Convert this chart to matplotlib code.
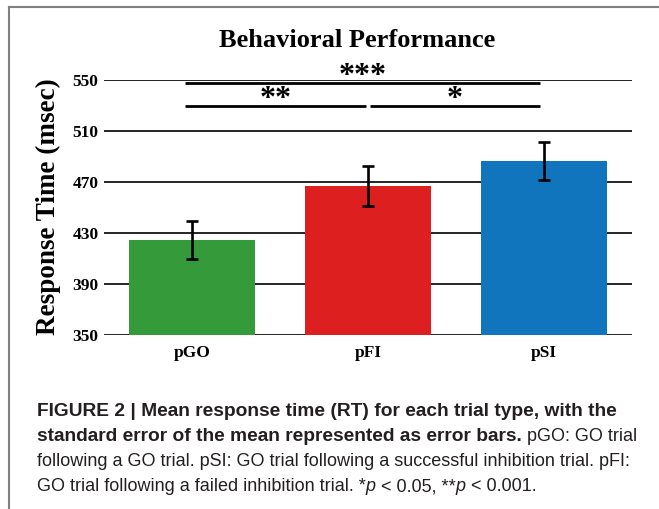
import matplotlib
matplotlib.use("Agg")
import matplotlib.pyplot as plt
from matplotlib import font_manager
from matplotlib.lines import Line2D

conditions = ["pGO", "pFI", "pSI"]
mean_rt = [424.5, 466.5, 486.0]
sem_rt = [15.0, 15.5, 15.0]
bar_colors = ["#359a3a", "#de1f20", "#1075bc"]
y_ticks = [350, 390, 430, 470, 510, 550]

# significance brackets: (x start, x end, y, stars)
sig_pairs = [(-0.04, 1.98, 547.5, "***"),
             (-0.04, 0.99, 529.5, "**"),
             (1.01, 1.98, 529.5, "*")]

caption_lines = [
    [("FIGURE 2 | Mean response time (RT) for each trial type, with the", "bold")],
    [("standard error of the mean represented as error bars.", "bold"),
     (" pGO: GO trial", "normal")],
    [("following a GO trial. pSI: GO trial following a successful inhibition trial. pFI:", "normal")],
    [("GO trial following a failed inhibition trial. *", "normal"), ("p", "italic"),
     (" < 0.05, **", "normal"), ("p", "italic"), (" < 0.001.", "normal")],
]


def pick_font(names):
    for n in names:
        try:
            font_manager.findfont(n, fallback_to_default=False)
            return n
        except Exception:
            pass
    return "DejaVu Sans"


serif = pick_font(["Liberation Serif", "DejaVu Serif"])
cap_font = pick_font(["Liberation Sans Narrow", "Liberation Sans", "DejaVu Sans"])

W, H = 659, 509
fig = plt.figure(figsize=(W / 100, H / 100), dpi=100)
ax = fig.add_axes([104 / W, 1 - 335 / H, (632 - 104) / W, (335 - 79.5) / H])

x = list(range(len(conditions)))
ax.bar(x, [m - 350 for m in mean_rt], bottom=350, width=0.72,
       color=bar_colors, zorder=3)
ax.errorbar(x, mean_rt, yerr=sem_rt, fmt="none", ecolor="black",
            elinewidth=1.9, capsize=4, capthick=1.9, zorder=4)

ax.set_xlim(-0.5, 2.5)
ax.set_ylim(350, 550)
ax.set_yticks(y_ticks)
ax.set_xticks(x)
ax.set_xticklabels(conditions)
for s in ax.spines.values():
    s.set_visible(False)
ax.yaxis.grid(True, color="black", linewidth=1.2, zorder=1)
ax.set_axisbelow(True)
ax.tick_params(length=0, pad=4)
for lab in ax.get_yticklabels() + ax.get_xticklabels():
    lab.set_fontfamily(serif)
    lab.set_fontweight("bold")
    lab.set_fontsize(12.5)
ax.tick_params(axis="x", pad=7)

for x0, x1, yv, stars in sig_pairs:
    ax.plot([x0, x1], [yv, yv], color="black", lw=2, clip_on=False,
            solid_capstyle="butt", zorder=5)
    ax.text((x0 + x1) / 2, yv - 0.8, stars, ha="center", va="baseline",
            fontfamily=serif, fontweight="bold", fontsize=23, clip_on=False)

fig.text(357 / W, 1 - 47 / H, "Behavioral Performance", ha="center",
         va="baseline", fontfamily=serif, fontweight="bold", fontsize=19)
fig.text(48 / W, 1 - 207 / H, "Response Time (msec)", rotation=90,
         ha="center", va="center", fontfamily=serif, fontweight="bold",
         fontsize=19.5)

# outer frame (cut off at right and bottom)
fig.add_artist(Line2D([9 / W, 9 / W], [0, 1 - 7 / H], color="#808080",
                      lw=1.5, transform=fig.transFigure))
fig.add_artist(Line2D([9 / W, 1], [1 - 7 / H, 1 - 7 / H], color="#808080",
                      lw=1.5, transform=fig.transFigure))

# caption, drawn run by run
renderer = fig.canvas.get_renderer()
line_y = [416, 441, 466, 491]
for runs, yb in zip(caption_lines, line_y):
    xp = 37
    for txt, style in runs:
        t = fig.text(xp / W, 1 - yb / H, txt, ha="left", va="baseline",
                     fontfamily=cap_font,
                     fontsize=13.8 if style == "bold" else 13.0,
                     fontweight="bold" if style == "bold" else "normal",
                     fontstyle="italic" if style == "italic" else "normal",
                     color="#231f20")
        bb = t.get_window_extent(renderer)
        xp += bb.width

fig.savefig("out.png", dpi=100)
